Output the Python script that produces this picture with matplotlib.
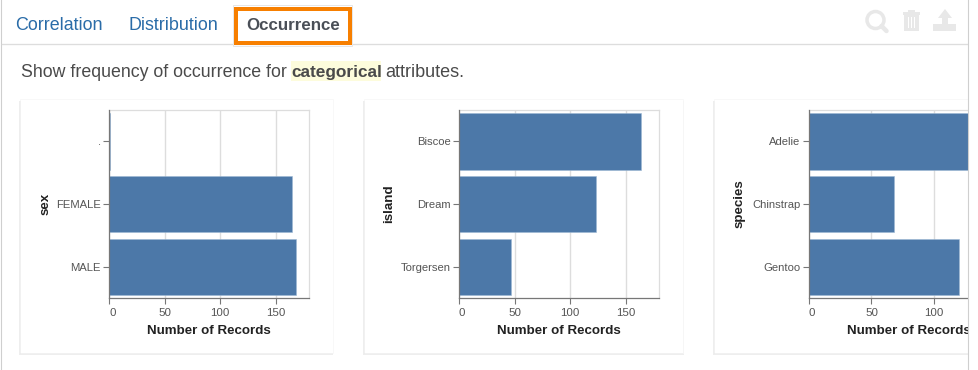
import matplotlib
matplotlib.use("Agg")
import matplotlib.pyplot as plt
from matplotlib.patches import Rectangle, FancyBboxPatch, Circle, Polygon

plt.rcParams['font.family'] = ['Liberation Sans', 'DejaVu Sans']

W, H = 979, 370
PX = 0.72

# ---- data -------------------------------------------------------------
sex_labels = ['.', 'FEMALE', 'MALE']
sex_counts = [1, 165, 168]
island_labels = ['Biscoe', 'Dream', 'Torgersen']
island_counts = [164, 123, 47]
species_labels = ['Adelie', 'Chinstrap', 'Gentoo']
species_counts = [152, 68, 120]
sex_ticks = [0, 50, 100, 150]
island_ticks = [0, 50, 100, 150]
species_ticks = [0, 50, 100]
x_title = 'Number of Records'
tabs = ['Correlation', 'Distribution', 'Occurrence']

fig = plt.figure(figsize=(W / 100, H / 100), dpi=100, facecolor='white')

bg = fig.add_axes([0, 0, 1, 1], zorder=0)
bg.set_xlim(0, W); bg.set_ylim(H, 0); bg.axis('off')

# page frame and tab rule
bg.plot([1.5, 1.5], [0, H], color='#cfcfcf', lw=1.1 * PX, zorder=1)
bg.plot([2, 968], [43.5, 43.5], color='#dddddd', lw=1.3 * PX, zorder=1)

# tabs
bg.text(15, 30, tabs[0], fontsize=17.9 * PX, color='#2a6ca8', va='baseline')
bg.text(129, 30, tabs[1], fontsize=17.9 * PX, color='#2a6ca8', va='baseline')
bg.add_patch(Rectangle((233.5, 4.5), 119, 41, fill=False, ec='#e6e6e6', lw=1 * PX, zorder=2))
bg.add_patch(Rectangle((236, 9), 114, 34, fill=False, ec='#f77f00', lw=4 * PX, zorder=3))
bg.text(246, 30, tabs[2], fontsize=16.9 * PX, color='#4a4f57', va='baseline', fontweight='bold', zorder=4)

# description line
bg.add_patch(Rectangle((291, 61), 90, 20, fc='#fdfcdc', ec='none'))
desc_y = 77
bg.text(21, desc_y, 'Show frequency of occurrence for', fontsize=17.8 * PX, color='#4a4a4a', va='baseline')
bg.text(291.5, desc_y, 'categorical', fontsize=17.2 * PX, color='#4a4a4a', va='baseline', fontweight='bold')
bg.text(385, desc_y, 'attributes.', fontsize=18 * PX, color='#4a4a4a', va='baseline')

# toolbar icons
ICON = '#e8e8e8'
bg.add_patch(Circle((875.5, 20), 8.5, fill=False, ec=ICON, lw=3.5 * PX))
bg.plot([881.5, 886.5], [26, 31], color=ICON, lw=4.5 * PX, solid_capstyle='round')
bg.add_patch(Rectangle((903, 12), 17, 3, fc=ICON, ec='none'))
bg.add_patch(Rectangle((908, 9.5), 7, 3, fc=ICON, ec='none'))
bg.add_patch(Rectangle((904, 15), 15, 15.5, fc=ICON, ec='none'))
for x in (908.5, 911.5, 914.5):
    bg.add_patch(Rectangle((x - 0.5, 17), 1, 11, fc='white', ec='none'))
bg.add_patch(Polygon([(945, 9), (952, 18), (948, 18), (948, 26), (942, 26), (942, 18), (938, 18)], fc=ICON, ec='none'))
bg.add_patch(Rectangle((933, 24), 23, 7, fc=ICON, ec='none'))

# cards
def card(x0, x1, y0=99, y1=353):
    bg.add_patch(Rectangle((x0 - 0.5, y0 + 2), x1 - x0 + 1, y1 - y0 - 0.5, fc='#eeeeee', ec='none'))
    bg.add_patch(Rectangle((x0, y0 + 2), x1 - x0, y1 - y0 - 1, fc='#d2d2d2', ec='none'))
    bg.add_patch(Rectangle((x0, y0), x1 - x0, y1 - y0, fc='white', ec='#f6f6f6', lw=0.5))

card(20, 333)
card(364, 683.5)
card(714, 990)


def chart(left, labels, counts, ticks, xmax, ylabel, ylabel_x):
    top, bottom, width = 110, 298.3, 200
    ax = fig.add_axes([left / W, 1 - bottom / H, width / W, (bottom - top) / H], zorder=2)
    ax.patch.set_alpha(0)
    ax.set_xlim(0, xmax)
    ax.set_ylim(len(labels) - 0.5, -0.5)
    ax.barh(range(len(labels)), counts, height=0.9, color='#4c78a8',
            edgecolor='#9db8d3', linewidth=0.4, zorder=3, clip_on=False)
    ax.set_axisbelow(True)
    ax.xaxis.grid(True, color='#dddddd', lw=1)
    ax.set_xticks(ticks)
    ax.set_yticks(range(len(labels)))
    ax.set_yticklabels(labels, fontsize=11.2 * PX, color='#555555')
    ax.tick_params(axis='y', length=4.5, width=0.8, color='#777777', pad=1.5)
    ax.tick_params(axis='x', length=4.5, width=0.8, color='#777777', pad=2.5, labelsize=11.5 * PX, labelcolor='#555555')
    ax.get_xticklabels()[0].set_ha('left')
    for s in ('top', 'right'):
        ax.spines[s].set_color('#dddddd')
        ax.spines[s].set_linewidth(0.9)
    for s in ('left', 'bottom'):
        ax.spines[s].set_color('#777777')
        ax.spines[s].set_linewidth(0.9)
        ax.spines[s].set_zorder(5)
    bg.text(left + 100, 331, x_title, fontsize=13.4 * PX, fontweight='bold', color='#222222', ha='center', va='center')
    bg.text(ylabel_x, 204, ylabel, fontsize=13.4 * PX, fontweight='bold', color='#222222', rotation=90, ha='center', va='center')
    return ax


chart(109, sex_labels, sex_counts, sex_ticks, 180, 'sex', 46)
chart(459, island_labels, island_counts, island_ticks, 180, 'island', 389.5)
chart(809, species_labels, species_counts, species_ticks, 160, 'species', 740)

# right edge of the page crops the third card
fg = fig.add_axes([0, 0, 1, 1], zorder=10)
fg.set_xlim(0, W); fg.set_ylim(H, 0); fg.axis('off')
fg.add_patch(Rectangle((969, 0), 10, H, fc='white', ec='none'))
fg.plot([968.3, 968.3], [0, H], color='#cfcfcf', lw=1.1 * PX)

fig.savefig('out.png', dpi=100)
